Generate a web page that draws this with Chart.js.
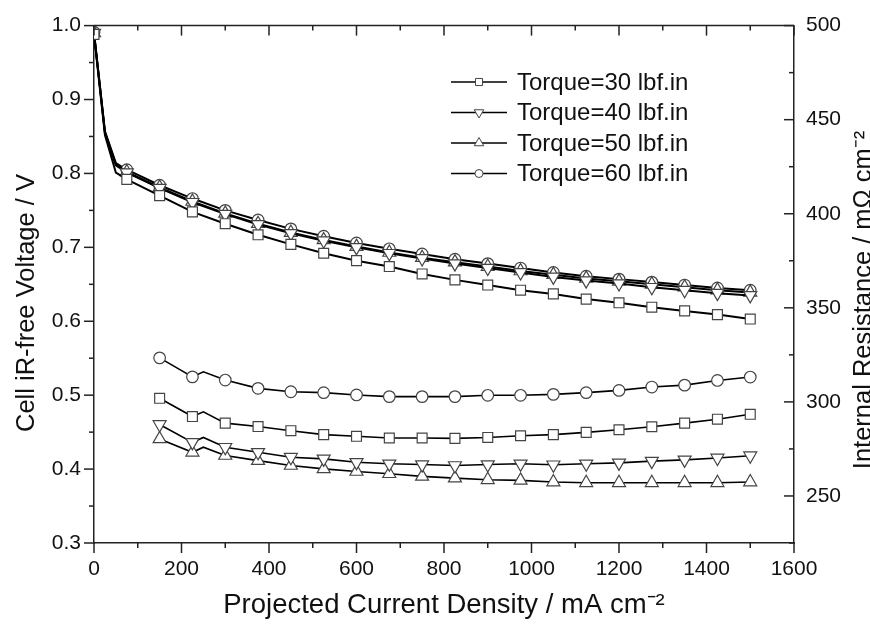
<!DOCTYPE html>
<html><head><meta charset="utf-8">
<script src="https://cdn.jsdelivr.net/npm/chart.js@4/dist/chart.umd.min.js"></script>
<style>html,body{margin:0;padding:0;background:#fff}#wrap{width:870px;height:624px}</style>
</head><body><div id="wrap"><canvas id="c" width="870" height="624"></canvas></div>
<script>
// ---- data ----
const seriesLabels = ['Torque=30 lbf.in', 'Torque=40 lbf.in', 'Torque=50 lbf.in', 'Torque=60 lbf.in'];
const currentV = [0,25,50,75,150,225,300,375,450,525,600,675,750,825,900,975,1050,1125,1200,1275,1350,1425,1500];
const volt30 = [0.988,0.852,0.801,0.792,0.770,0.748,0.732,0.717,0.704,0.692,0.682,0.674,0.664,0.656,0.649,0.642,0.637,0.630,0.625,0.619,0.614,0.609,0.603];
const volt40 = [0.990,0.855,0.811,0.801,0.780,0.761,0.745,0.731,0.719,0.709,0.700,0.692,0.685,0.678,0.672,0.666,0.660,0.655,0.651,0.646,0.642,0.638,0.635];
const volt50 = [0.990,0.856,0.812,0.802,0.781,0.762,0.746,0.732,0.720,0.710,0.701,0.693,0.686,0.680,0.674,0.668,0.663,0.658,0.654,0.650,0.646,0.642,0.639];
const volt60 = [0.991,0.857,0.814,0.805,0.784,0.766,0.750,0.737,0.725,0.715,0.706,0.698,0.691,0.684,0.678,0.672,0.666,0.661,0.657,0.653,0.649,0.645,0.642];
const markerlessV = [25, 50];
const currentR = [150,225,250,300,375,450,525,600,675,750,825,900,975,1050,1125,1200,1275,1350,1425,1500];
const res30 = [301.9,292.2,294.7,288.7,286.9,284.7,282.6,281.7,280.8,280.8,280.6,281.1,282.0,282.6,283.8,285.2,286.8,288.7,290.8,293.4];
const res40 = [288.0,278.5,281.1,275.9,273.2,270.6,269.7,267.9,267.1,266.7,266.2,266.7,267.1,266.6,267.1,267.6,268.5,269.2,270.2,271.4];
const res50 = [280.3,273.2,275.9,271.5,268.8,266.2,264.4,263.0,261.8,260.4,259.5,258.6,258.3,257.4,257.0,257.0,257.0,257.0,257.0,257.4];
const res60 = [323.4,313.3,316.0,311.6,307.2,305.4,304.9,303.7,302.8,302.8,302.8,303.5,303.5,304.0,304.9,306.1,307.9,308.9,311.4,313.2];
const markerlessR = [250];
const xTicks = [0,200,400,600,800,1000,1200,1400,1600];
const leftTicks = [0.3,0.4,0.5,0.6,0.7,0.8,0.9,1.0];
const rightTicks = [250,300,350,400,450,500];
const xTitle = 'Projected Current Density / mA cm\u207B\u00B2';
const leftTitle = 'Cell iR-free Voltage / V';
const rightTitle = 'Internal Resistance / m\u03A9 cm\u207B\u00B2';

// ---- styles ----
const FONT = "'Liberation Sans', Arial, sans-serif";
Chart.defaults.font.family = FONT;
Chart.defaults.color = '#111';
const markers = [
  {pointStyle: 'rect', rotation: 0, radius: 7},
  {pointStyle: 'triangle', rotation: 180, radius: 7.5},
  {pointStyle: 'triangle', rotation: 0, radius: 7.5},
  {pointStyle: 'circle', rotation: 0, radius: 5.8}
];
const legendMarkers = [
  {pointStyle: 'rect', rotation: 0, radius: 5},
  {pointStyle: 'triangle', rotation: 180, radius: 5.5},
  {pointStyle: 'triangle', rotation: 0, radius: 5.5},
  {pointStyle: 'circle', rotation: 0, radius: 4}
];
const voltSeries = [volt30, volt40, volt50, volt60];
const resSeries = [res30, res40, res50, res60];

function makeDs(xs, ys, i, axis, lw, label, skip) {
  const m = markers[i];
  return {
    label: label,
    data: xs.map((x, k) => ({x: x, y: ys[k]})),
    yAxisID: axis,
    borderColor: '#000',
    borderWidth: lw,
    backgroundColor: '#fff',
    pointStyle: m.pointStyle,
    pointRotation: m.rotation,
    pointRadius: ctx => (ctx.raw && skip.includes(ctx.raw.x)) ? 0 : m.radius,
    pointBackgroundColor: '#fff',
    pointBorderColor: '#444',
    pointBorderWidth: 1.2,
    tension: 0,
    fill: false
  };
}
const datasets = [];
voltSeries.forEach((ys, i) => datasets.push(makeDs(currentV, ys, i, 'yV', 2, seriesLabels[i], markerlessV)));
resSeries.forEach((ys, i) => datasets.push(makeDs(currentR, ys, i, 'yR', 1.6, seriesLabels[i] + ' (R)', markerlessR)));

const framePlugin = {
  id: 'frame',
  afterDraw(chart) {
    const {ctx, chartArea: a, scales} = chart;
    const sx = scales.x, yV = scales.yV, yR = scales.yR;
    ctx.save();
    ctx.strokeStyle = '#222';
    ctx.lineWidth = 1.5;
    const seg = (x1, y1, x2, y2) => { ctx.beginPath(); ctx.moveTo(x1, y1); ctx.lineTo(x2, y2); ctx.stroke(); };
    seg(a.left, a.top, a.right, a.top);
    for (let i = 0; i < xTicks.length; i++) {
      const px = sx.getPixelForValue(xTicks[i]);
      seg(px, a.bottom, px, a.bottom + 10);
      seg(px, a.top, px, a.top + 10);
      if (i < xTicks.length - 1) {
        const pm = sx.getPixelForValue((xTicks[i] + xTicks[i + 1]) / 2);
        seg(pm, a.bottom, pm, a.bottom + 5);
        seg(pm, a.top, pm, a.top + 5);
      }
    }
    for (let i = 0; i < leftTicks.length; i++) {
      const py = yV.getPixelForValue(leftTicks[i]);
      seg(a.left - 10, py, a.left, py);
      if (i < leftTicks.length - 1) {
        const pm = yV.getPixelForValue((leftTicks[i] + leftTicks[i + 1]) / 2);
        seg(a.left - 5, pm, a.left, pm);
      }
    }
    for (let i = 0; i < rightTicks.length; i++) {
      const py = yR.getPixelForValue(rightTicks[i]);
      seg(a.right - 10, py, a.right, py);
      const pm = yR.getPixelForValue(rightTicks[i] - 25);
      seg(a.right - 5, pm, a.right, pm);
    }
    ctx.restore();

    // vertical axis titles (both read bottom to top)
    const vTitle = (text, x, y) => {
      ctx.save();
      ctx.fillStyle = '#111';
      ctx.font = '25.5px ' + FONT;
      ctx.translate(x, y);
      ctx.rotate(-Math.PI / 2);
      ctx.textAlign = 'center';
      ctx.textBaseline = 'alphabetic';
      ctx.fillText(text, 0, 0);
      ctx.restore();
    };
    vTitle(leftTitle, 34, 303);
    vTitle(rightTitle, 871, 300);

    // legend inside plot
    ctx.save();
    const lx0 = 451, lx1 = 507, ly0 = 82, dy = 30.5;
    for (let i = 0; i < 4; i++) {
      const y = ly0 + i * dy;
      ctx.strokeStyle = '#000';
      ctx.lineWidth = 1.6;
      seg(lx0, y, lx1, y);
      const m = legendMarkers[i];
      ctx.fillStyle = '#fff';
      ctx.strokeStyle = '#444';
      ctx.lineWidth = 1;
      Chart.helpers.drawPoint(ctx, {pointStyle: m.pointStyle, rotation: m.rotation, radius: m.radius, borderWidth: 1}, (lx0 + lx1) / 2, y);
      ctx.fillStyle = '#111';
      ctx.font = '24px ' + FONT;
      ctx.textAlign = 'left';
      ctx.textBaseline = 'middle';
      ctx.fillText(seriesLabels[i], 517, y + 1);
    }
    ctx.restore();
  }
};

const noTickGrid = {display: false, drawTicks: false, tickLength: 0};
new Chart(document.getElementById('c'), {
  type: 'line',
  data: {datasets: datasets},
  options: {
    responsive: false,
    animation: false,
    devicePixelRatio: 1,
    layout: {padding: {top: 22, left: 0, right: 0, bottom: 0}},
    plugins: {legend: {display: false}, tooltip: {enabled: false}},
    scales: {
      x: {
        type: 'linear', position: 'bottom', min: 0, max: 1600,
        afterBuildTicks: s => { s.ticks = xTicks.map(v => ({value: v})); },
        afterFit: s => { s.height = 81; },
        grid: noTickGrid,
        border: {display: true, color: '#222', width: 1.5},
        ticks: {padding: 14, color: '#111', font: {size: 21}, callback: v => String(v)},
        title: {display: true, text: xTitle, color: '#111', font: {size: 27.5}, padding: {top: 0, bottom: 2}}
      },
      yV: {
        type: 'linear', position: 'left', min: 0.3, max: 1.0,
        afterBuildTicks: s => { s.ticks = leftTicks.map(v => ({value: v})); },
        afterFit: s => { s.width = 94; },
        grid: noTickGrid,
        border: {display: true, color: '#222', width: 1.5},
        ticks: {padding: 13, color: '#111', font: {size: 21}, callback: v => Number(v).toFixed(1)},
        title: {display: false}
      },
      yR: {
        type: 'linear', position: 'right', min: 225, max: 500,
        afterBuildTicks: s => { s.ticks = rightTicks.map(v => ({value: v})); },
        afterFit: s => { s.width = 76; },
        grid: noTickGrid,
        border: {display: true, color: '#222', width: 1.5},
        ticks: {padding: 12, color: '#111', font: {size: 21}, callback: v => String(v)},
        title: {display: false}
      }
    }
  },
  plugins: [framePlugin]
});
</script></body></html>
